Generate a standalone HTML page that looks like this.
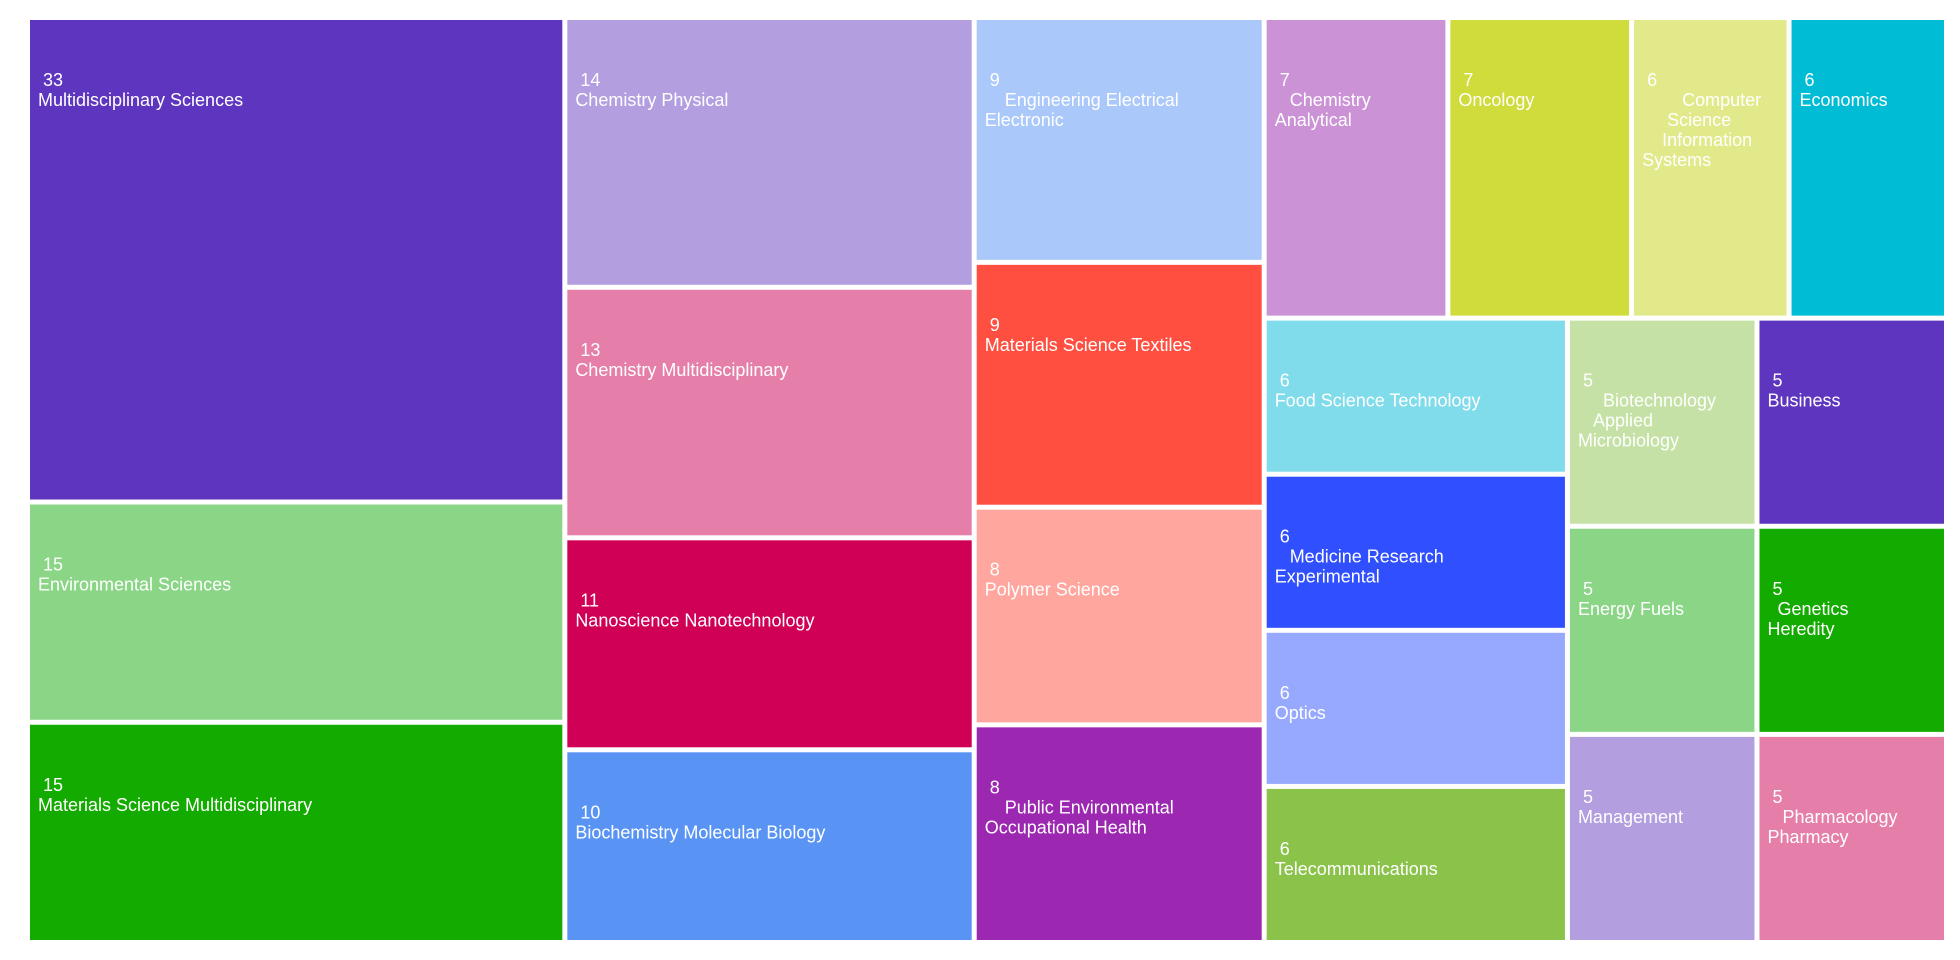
<!DOCTYPE html>
<html><head><meta charset="utf-8"><style>
html,body{margin:0;padding:0;background:#fff;width:1960px;height:960px;overflow:hidden}
svg text{font-family:"Liberation Sans",Arial,sans-serif;font-size:18px;fill:#fff}
</style></head><body>
<svg id="chart" width="1960" height="960" xmlns="http://www.w3.org/2000/svg"></svg>
<script>
const categories = ["Multidisciplinary Sciences","Environmental Sciences","Materials Science Multidisciplinary","Chemistry Physical","Chemistry Multidisciplinary","Nanoscience Nanotechnology","Biochemistry Molecular Biology","Engineering Electrical Electronic","Materials Science Textiles","Polymer Science","Public Environmental Occupational Health","Chemistry Analytical","Oncology","Computer Science Information Systems","Economics","Food Science Technology","Medicine Research Experimental","Optics","Telecommunications","Biotechnology Applied Microbiology","Business","Energy Fuels","Genetics Heredity","Management","Pharmacology Pharmacy"];
const values = [33,15,15,14,13,11,10,9,9,8,8,7,7,6,6,6,6,6,6,5,5,5,5,5,5];
const labelLines = [
 ["Multidisciplinary Sciences"],["Environmental Sciences"],["Materials Science Multidisciplinary"],
 ["Chemistry Physical"],["Chemistry Multidisciplinary"],["Nanoscience Nanotechnology"],["Biochemistry Molecular Biology"],
 ["\u00a0\u00a0\u00a0\u00a0Engineering Electrical","Electronic"],["Materials Science Textiles"],["Polymer Science"],
 ["\u00a0\u00a0\u00a0\u00a0Public Environmental","Occupational Health"],
 ["\u00a0\u00a0\u00a0Chemistry","Analytical"],["Oncology"],
 ["\u00a0\u00a0\u00a0\u00a0\u00a0\u00a0\u00a0\u00a0Computer","\u00a0\u00a0\u00a0\u00a0\u00a0Science","\u00a0\u00a0\u00a0\u00a0Information","Systems"],
 ["Economics"],["Food Science Technology"],["\u00a0\u00a0\u00a0Medicine Research","Experimental"],["Optics"],["Telecommunications"],
 ["\u00a0\u00a0\u00a0\u00a0\u00a0Biotechnology","\u00a0\u00a0\u00a0Applied","Microbiology"],["Business"],["Energy Fuels"],
 ["\u00a0\u00a0Genetics","Heredity"],["Management"],["\u00a0\u00a0\u00a0Pharmacology","Pharmacy"]];
const colors = ["#5e35bf","#8bd586","#14ab00","#b39ee0","#e57fa9","#cf0056","#5994f5","#aac8fa","#ff4f40","#ffa69e","#9c27b0","#cb92d6","#cfdc3b","#e2e98a","#00bcd4","#80dceb","#304ffe","#97a8ff","#8bc34a","#c5e1a5","#5e35bf","#8bd586","#14ab00","#b39ee0","#e57fa9"];

const NS="http://www.w3.org/2000/svg";
const svg=document.getElementById('chart');
const PAD=2.5, X0=30-PAD, Y0=20-PAD, X1=1944+PAD, Y1=940+PAD;
const RATIO=(1+Math.sqrt(5))/2;
function layout(){
  const nodes=values.map((v,i)=>({v,i}));
  const rects=[];
  let x0=X0,y0=Y0,x1=X1,y1=Y1,value=nodes.reduce((a,b)=>a+b.v,0),i0=0,i1=0,n=nodes.length;
  while(i0<n){
    const dx=x1-x0,dy=y1-y0;
    let sum=nodes[i1++].v,minV=sum,maxV=sum;
    const alpha=Math.max(dy/dx,dx/dy)/(value*RATIO);
    let beta=sum*sum*alpha,minR=Math.max(maxV/beta,beta/minV);
    for(;i1<n;++i1){
      const nv=nodes[i1].v;sum+=nv;
      const mn=Math.min(minV,nv),mx=Math.max(maxV,nv);
      beta=sum*sum*alpha;
      const r=Math.max(mx/beta,beta/mn);
      if(r>minR){sum-=nv;break;}
      minR=r;minV=mn;maxV=mx;
    }
    const row=nodes.slice(i0,i1);
    if(dx<dy){
      const ny=y0+dy*sum/value;let cx=x0;
      row.forEach(nd=>{const w=dx*nd.v/sum;rects.push({i:nd.i,x:cx,y:y0,w,h:ny-y0});cx+=w;});
      y0=ny;
    }else{
      const nx=x0+dx*sum/value;let cy=y0;
      row.forEach(nd=>{const h=dy*nd.v/sum;rects.push({i:nd.i,x:x0,y:cy,w:nx-x0,h});cy+=h;});
      x0=nx;
    }
    value-=sum;i0=i1;
  }
  return rects;
}
layout().forEach(r=>{
  const g=document.createElementNS(NS,'g');
  
  
  const rect=document.createElementNS(NS,'rect');
  
  
  rect.setAttribute('x',r.x+PAD);rect.setAttribute('y',r.y+PAD);
  rect.setAttribute('width',Math.max(0,r.w-2*PAD));rect.setAttribute('height',Math.max(0,r.h-2*PAD));
  rect.setAttribute('fill',colors[r.i]);
  g.appendChild(rect);
  const tx=r.x+PAD+8, ty=r.y+PAD+66;
  const t=document.createElementNS(NS,'text');
  
  
  t.setAttribute('x',tx);t.setAttribute('y',ty);
  t.setAttribute('xml:space','preserve');
  const lines=["\u00a0"+values[r.i]].concat(labelLines[r.i]);
  lines.forEach((ln,k)=>{
    const s=document.createElementNS(NS,'tspan');
    s.setAttribute('x',tx);
    s.setAttribute('y',ty+k*20);
    s.textContent=ln;
    t.appendChild(s);
  });
  g.appendChild(t);
  svg.appendChild(g);
});
</script>
</body></html>
